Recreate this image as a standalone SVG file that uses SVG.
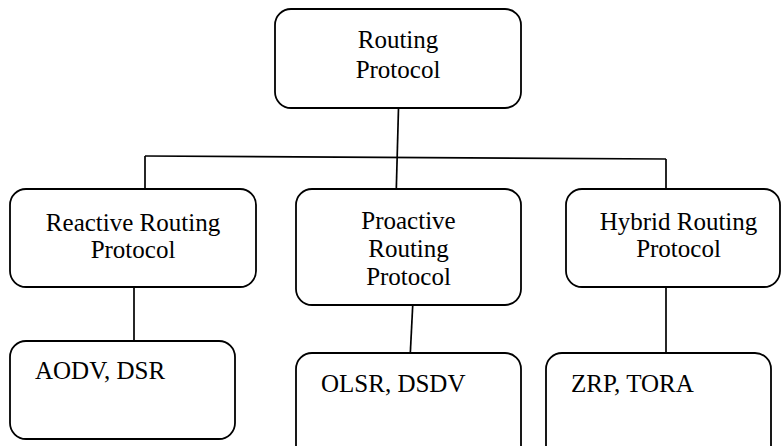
<svg xmlns="http://www.w3.org/2000/svg" width="783" height="446" viewBox="0 0 783 446">
  <style>
    .box { fill: #ffffff; stroke: #000000; stroke-width: 1.8; }
    .wire { fill: none; stroke: #000000; stroke-width: 1.7; }
    .lbl { font-family: "Liberation Serif", "Times New Roman", serif; font-size: 25px; fill: #000000; }
    .mid { text-anchor: middle; }
  </style>
  <rect width="783" height="446" fill="#ffffff"/>

  <!-- connectors -->
  <g id="connectors">
    <line class="wire" x1="398.5" y1="108" x2="396" y2="200"/>
    <line class="wire" x1="145" y1="156" x2="666" y2="159"/>
    <line class="wire" x1="145" y1="156" x2="145" y2="189"/>
    <line class="wire" x1="666" y1="159" x2="666" y2="189"/>
    <line class="wire" x1="134" y1="287" x2="134" y2="341"/>
    <line class="wire" x1="413" y1="300" x2="410" y2="359"/>
    <line class="wire" x1="666" y1="287" x2="666" y2="353"/>
  </g>

  <!-- root -->
  <g id="routing-protocol">
    <rect class="box" x="275" y="9" width="246" height="99" rx="16"/>
    <text class="lbl mid" x="398" y="48">Routing</text>
    <text class="lbl mid" x="398" y="77.5">Protocol</text>
  </g>

  <!-- second level -->
  <g id="reactive">
    <rect class="box" x="10" y="189" width="246" height="98" rx="16"/>
    <text class="lbl mid" x="133" y="231">Reactive Routing</text>
    <text class="lbl mid" x="133" y="258">Protocol</text>
  </g>
  <g id="proactive">
    <rect class="box" x="296" y="189" width="225" height="116" rx="16"/>
    <text class="lbl mid" x="408.5" y="228.5">Proactive</text>
    <text class="lbl mid" x="408.5" y="257">Routing</text>
    <text class="lbl mid" x="408.5" y="285">Protocol</text>
  </g>
  <g id="hybrid">
    <rect class="box" x="566" y="189" width="214" height="98" rx="16"/>
    <text class="lbl mid" x="678.5" y="229.5">Hybrid Routing</text>
    <text class="lbl mid" x="678.5" y="257">Protocol</text>
  </g>

  <!-- leaves -->
  <g id="aodv-dsr">
    <rect class="box" x="10" y="341" width="225" height="98" rx="16"/>
    <text class="lbl" x="35" y="378.5">AODV, DSR</text>
  </g>
  <g id="olsr-dsdv">
    <rect class="box" x="296" y="353" width="225" height="110" rx="16"/>
    <text class="lbl" x="321" y="391.5">OLSR, DSDV</text>
  </g>
  <g id="zrp-tora">
    <rect class="box" x="546" y="353" width="225" height="110" rx="16"/>
    <text class="lbl" x="571" y="391.5">ZRP, TORA</text>
  </g>
</svg>
